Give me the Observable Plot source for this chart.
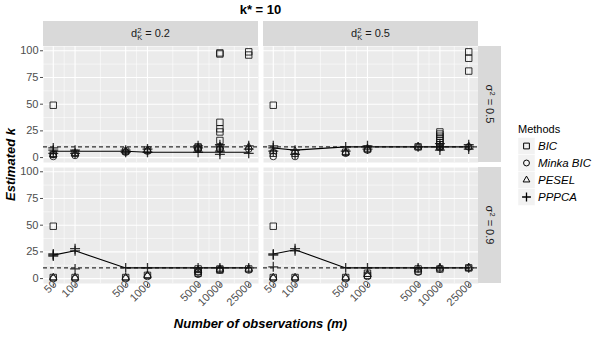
<!DOCTYPE html>
<html><head><meta charset="utf-8">
<script src="https://cdn.jsdelivr.net/npm/d3@7"></script>
<script src="https://cdn.jsdelivr.net/npm/@observablehq/plot@0.6"></script>
<style>
body{margin:0;background:#fff;font-family:"Liberation Sans",Arial,sans-serif;}
#chart{width:602px;height:338px;}
</style></head><body><div id="chart"></div>
<script>
// ---------- data ----------
const methods = ["BIC", "Minka BIC", "PESEL", "PPPCA"];
const dK = ["0.2", "0.5"];          // columns: d_K^2
const sigma = ["0.5", "0.9"];       // rows: sigma^2
const observations = [50, 100, 500, 1000, 5000, 10000, 25000];
const yTicks = [0, 25, 50, 75, 100];
const yMinor = [12.5, 37.5, 62.5, 87.5];
const xMinor = [70.7, 223.6, 707.1, 2236, 7071, 15811];
const kStar = 10;

// panel d=0.2, sigma=0.5  (values per observation count)
const bic_02_05   = [[3,49],[4],[6],[7],[9,10],[9,16,24,27,33,97,98],[96,99]];
const minka_02_05 = [[1,3],[2],[5],[6],[8],[8],[8]];
const pesel_02_05 = [[3],[4],[6],[7],[9],[10],[10]];
const pppca_02_05 = [[4,7,9],[4,7],[5,7],[5,8],[5,9,11],[3,6,10,12],[4,8,11]];
const trend_02_05 = [6,6,6,5,5,5,5];
// panel d=0.5, sigma=0.5
const bic_05_05   = [[4,49],[4],[5],[8],[10],[10,12,14,16,18,20,22,24],[81,93,99]];
const minka_05_05 = [[1],[1],[4],[7],[10],[10],[10]];
const pesel_05_05 = [[6],[6],[5],[8],[10],[10],[10]];
const pppca_05_05 = [[6,9,11],[3,7],[6,10],[8,11],[10],[7,10,13],[8,10,12]];
const trend_05_05 = [9,7,10,10,10,10,10];
// panel d=0.2, sigma=0.9
const bic_02_09   = [[1,49],[1],[1],[3],[5,7,9],[8,9],[9]];
const minka_02_09 = [[0],[0],[0],[2],[4,6],[8],[8]];
const pesel_02_09 = [[1],[1],[1],[3],[8],[9],[9]];
const pppca_02_09 = [[21,22,23],[9,26,28],[10],[10],[10],[10],[10]];
const trend_02_09 = [22,26,10,10,10,10,10];
// panel d=0.5, sigma=0.9
const bic_05_09   = [[1,49],[1],[1],[3,5],[7,9],[9],[10]];
const minka_05_09 = [[0],[0],[0],[2],[6],[9],[10]];
const pesel_05_09 = [[1],[1],[1],[4],[9],[10],[10]];
const pppca_05_09 = [[11,22,23],[26,28],[10],[10],[10],[10],[10]];
const trend_05_09 = [23,27,10,10,10,10,10];

// ---------- build table ----------
const panels = [
  {d: "0.2", s: "0.5", sets: [bic_02_05, minka_02_05, pesel_02_05, pppca_02_05], trend: trend_02_05},
  {d: "0.5", s: "0.5", sets: [bic_05_05, minka_05_05, pesel_05_05, pppca_05_05], trend: trend_05_05},
  {d: "0.2", s: "0.9", sets: [bic_02_09, minka_02_09, pesel_02_09, pppca_02_09], trend: trend_02_09},
  {d: "0.5", s: "0.9", sets: [bic_05_09, minka_05_09, pesel_05_09, pppca_05_09], trend: trend_05_09}
];
const rows = [];
for (const p of panels) {
  p.sets.forEach((set, mi) => set.forEach((vals, i) => vals.forEach(k =>
    rows.push({d: p.d, s: p.s, m: observations[i], k, method: methods[mi]}))));
  p.trend.forEach((k, i) => rows.push({d: p.d, s: p.s, m: observations[i], k, method: "trend"}));
}
const bottomRow = sigma[sigma.length - 1];

// ---------- styles ----------
const symbolOf = {"BIC": "square2", "Minka BIC": "circle", "PESEL": "triangle2", "PPPCA": "plus"};
const rOf = {"BIC": 4.1, "Minka BIC": 3.3, "PESEL": 3.6, "PPPCA": 3.3};
const swOf = {"BIC": 1, "Minka BIC": 1, "PESEL": 1, "PPPCA": 1.3};
const tickSymbol = {draw(ctx) { ctx.moveTo(0, 0); ctx.lineTo(0, 3); }};

const dotMark = (m) => Plot.dot(rows, {
  filter: d => d.method === m, x: "m", y: "k",
  symbol: symbolOf[m], r: rOf[m], fill: "none", stroke: "#111", strokeOpacity: 0.85, strokeWidth: swOf[m]
});

const plot = Plot.plot({
  width: 602, height: 338,
  marginLeft: 43, marginRight: 124, marginTop: 46, marginBottom: 55,
  style: {fontFamily: "Liberation Sans, Arial, sans-serif", fontSize: "11px", color: "#4D4D4D", background: "transparent", overflow: "visible"},
  facet: {data: rows, x: "d", y: "s"},
  fx: {domain: dK, paddingInner: 5 / 220, paddingOuter: 0, round: false, axis: null, label: null},
  fy: {domain: sigma, paddingInner: 5 / 121, paddingOuter: 0, round: false, axis: null, label: null},
  x: {type: "log", domain: [36.65, 34120], axis: null, label: null},
  y: {domain: [-4.6, 104], ticks: yTicks, tickSize: 3, tickPadding: 2, label: null},
  marks: [
    Plot.frame({fill: "#EBEBEB", stroke: "none"}),
    Plot.ruleX(xMinor, {stroke: "white", strokeWidth: 0.55}),
    Plot.ruleY(yMinor, {stroke: "white", strokeWidth: 0.55}),
    Plot.ruleX(observations, {stroke: "white", strokeWidth: 1.1}),
    Plot.ruleY(yTicks, {stroke: "white", strokeWidth: 1.1}),
    Plot.ruleY([kStar], {stroke: "black", strokeWidth: 1, strokeDasharray: "4,3"}),
    Plot.line(rows, {filter: d => d.method === "trend", x: "m", y: "k", stroke: "black", strokeWidth: 1.1}),
    ...methods.map(dotMark),
    // x axis ticks and rotated labels (bottom row of panels only)
    Plot.dot(rows, {filter: d => d.method === "trend" && d.s === bottomRow, x: "m", frameAnchor: "bottom",
      symbol: tickSymbol, stroke: "#333", strokeWidth: 1, fill: "none"}),
    Plot.text(rows, {filter: d => d.method === "trend" && d.s === bottomRow, x: "m", text: d => String(d.m),
      frameAnchor: "bottom", rotate: -45, textAnchor: "end", dx: 4, dy: 1.5, fill: "#4D4D4D", fontSize: 11})
  ]
});

document.getElementById("chart").appendChild(plot);
const svgEl = plot.tagName.toLowerCase() === "svg" ? plot : plot.querySelector("svg");
const svg = d3.select(svgEl);

// facet band geometry from Plot's own facet scales
function bandOf(s, pin) {
  return d3.scaleBand(s.domain, s.range)
    .paddingInner(s.paddingInner ?? pin).paddingOuter(s.paddingOuter ?? 0)
    .align(s.align ?? 0.5).round(!!s.round);
}
const bx = bandOf(plot.scale("fx"), 5 / 220);
const by = bandOf(plot.scale("fy"), 5 / 121);
const fxRange = plot.scale("fx").range, fyRange = plot.scale("fy").range;

const g = svg.append("g").attr("font-family", "Liberation Sans, Arial, sans-serif").attr("text-anchor", "start");

// top strips
const stripH = 25;
for (const v of dK) {
  const x0 = bx(v), w = bx.bandwidth();
  const top = fyRange[0] - stripH;
  g.append("rect").attr("x", x0).attr("y", top).attr("width", w).attr("height", stripH).attr("fill", "#D9D9D9");
  const t = g.append("text").attr("x", x0 + w / 2).attr("y", top + 16).attr("text-anchor", "middle")
    .attr("font-size", 11).attr("fill", "#1A1A1A");
  t.append("tspan").text("d");
  t.append("tspan").attr("font-size", 7.5).attr("dy", -4.5).text("2");
  t.append("tspan").attr("font-size", 7.5).attr("dx", -4.2).attr("dy", 7.5).text("K");
  t.append("tspan").attr("dy", -3).text(" = " + v);
}
// right strips
const stripW = 23;
for (const v of sigma) {
  const y0 = by(v), h = by.bandwidth();
  const x0 = fxRange[1];
  g.append("rect").attr("x", x0).attr("y", y0).attr("width", stripW).attr("height", h).attr("fill", "#D9D9D9");
  const t = g.append("text").attr("transform", `translate(${x0 + stripW / 2 - 4},${y0 + h / 2}) rotate(90)`)
    .attr("text-anchor", "middle").attr("font-size", 11).attr("fill", "#1A1A1A");
  t.append("tspan").text("σ");
  t.append("tspan").attr("font-size", 7.5).attr("dy", -4.5).text("2");
  t.append("tspan").attr("dy", 4.5).text(" = " + v);
}

// title and axis titles
const cx = (fxRange[0] + fxRange[1]) / 2;
const cy = (fyRange[0] + fyRange[1]) / 2;
g.append("text").attr("x", cx).attr("y", 14).attr("text-anchor", "middle")
  .attr("font-size", 13).attr("font-weight", "bold").attr("fill", "black").text("k* = 10");
g.append("text").attr("transform", `translate(15,${cy}) rotate(-90)`).attr("text-anchor", "middle")
  .attr("font-size", 13).attr("font-weight", "bold").attr("font-style", "italic").attr("fill", "black").text("Estimated k");
g.append("text").attr("x", cx).attr("y", 328).attr("text-anchor", "middle")
  .attr("font-size", 13).attr("font-weight", "bold").attr("font-style", "italic").attr("fill", "black").text("Number of observations (m)");

// legend
const d3sym = {"square2": d3.symbolSquare2, "circle": d3.symbolCircle, "triangle2": d3.symbolTriangle2, "plus": d3.symbolPlus};
const lx = 518, ly = 137.5, key = 17;
g.append("text").attr("x", lx).attr("y", ly - 5).attr("text-anchor", "start").attr("font-size", 11).attr("fill", "black").text("Methods");
methods.forEach((m, i) => {
  const y = ly + i * key;
  g.append("rect").attr("x", lx).attr("y", y).attr("width", key).attr("height", key)
    .attr("fill", "#F2F2F2").attr("stroke", "white").attr("stroke-width", 0.5);
  g.append("path").attr("transform", `translate(${lx + key / 2},${y + key / 2})`)
    .attr("d", d3.symbol(d3sym[symbolOf[m]], Math.PI * rOf[m] * rOf[m] * 0.8)())
    .attr("fill", "none").attr("stroke", "black").attr("stroke-width", swOf[m]);
  g.append("text").attr("x", lx + key + 3).attr("y", y + key / 2 + 4).attr("text-anchor", "start").attr("font-size", 11.5)
    .attr("font-style", "italic").attr("fill", "black").text(m);
});
</script></body></html>
